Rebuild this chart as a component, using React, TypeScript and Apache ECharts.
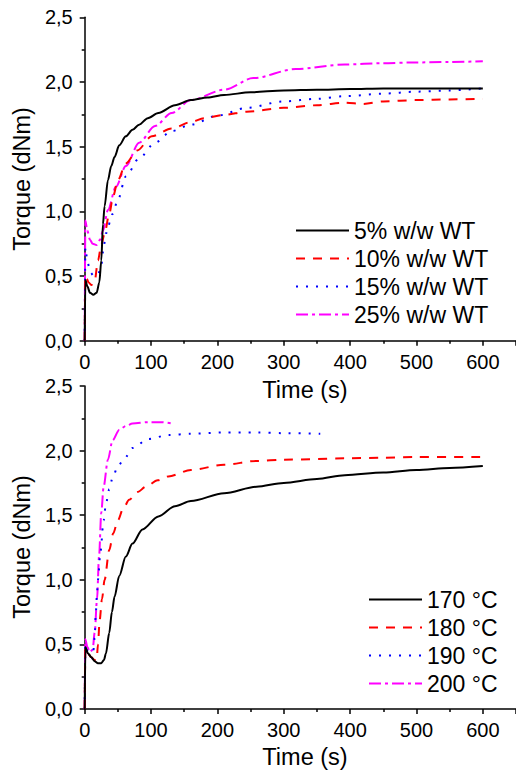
import React, { useEffect, useRef } from "react";
import * as echarts from "echarts";

// ---- Top panel: filler content (% w/w WT) ----
const wt5Time = [0, 1, 4, 8, 13, 18, 22, 25, 27.5, 30, 35, 40, 45, 52, 62, 72, 82, 95, 111, 136, 160, 185, 210, 250, 300, 350, 400, 450, 500, 550, 600];
const wt5Torque = [0, 0.47, 0.42, 0.37, 0.355, 0.37, 0.45, 0.62, 0.9, 1.04, 1.24, 1.35, 1.42, 1.51, 1.58, 1.63, 1.67, 1.72, 1.76, 1.82, 1.86, 1.88, 1.9, 1.92, 1.935, 1.94, 1.945, 1.95, 1.95, 1.95, 1.95];

const wt10Time = [0, 1, 3, 6, 10, 15, 20, 25, 30, 37, 43, 50, 62, 79, 101, 131, 160, 180, 210, 244, 300, 350, 392, 420, 450, 500, 550, 600];
const wt10Torque = [0, 0.5, 0.48, 0.45, 0.43, 0.46, 0.62, 0.74, 0.83, 0.98, 1.12, 1.24, 1.37, 1.47, 1.58, 1.64, 1.69, 1.72, 1.745, 1.77, 1.8, 1.82, 1.84, 1.83, 1.85, 1.86, 1.865, 1.87];

const wt15Time = [0, 1, 4, 8, 14, 20, 25, 28, 32, 42, 50, 62, 82, 106, 131, 160, 200, 244, 300, 350, 392, 450, 500, 550, 600];
const wt15Torque = [0, 0.72, 0.62, 0.53, 0.5, 0.51, 0.58, 0.7, 0.83, 0.98, 1.09, 1.27, 1.41, 1.53, 1.62, 1.67, 1.74, 1.8, 1.85, 1.87, 1.89, 1.91, 1.925, 1.935, 1.95];

const wt25Time = [0, 1, 4, 8, 12, 18, 23, 27.5, 35, 47, 62, 82, 106, 131, 160, 210, 254, 318, 392, 450, 490, 550, 600];
const wt25Torque = [0, 0.93, 0.85, 0.78, 0.75, 0.74, 0.78, 0.85, 1.01, 1.19, 1.35, 1.53, 1.66, 1.76, 1.86, 1.94, 2.03, 2.1, 2.135, 2.145, 2.15, 2.155, 2.16];

// ---- Bottom panel: temperature ----
const c170Time = [0, 1, 5, 10, 15, 20, 25, 29, 32, 37, 41, 45, 52, 62, 72, 87, 111, 136, 160, 210, 259, 300, 350, 392, 450, 500, 550, 600];
const c170Torque = [0, 0.48, 0.43, 0.4, 0.37, 0.355, 0.355, 0.38, 0.43, 0.59, 0.75, 0.87, 1.03, 1.18, 1.28, 1.39, 1.49, 1.57, 1.61, 1.67, 1.72, 1.75, 1.78, 1.81, 1.83, 1.85, 1.865, 1.88];

const c180Time = [0, 1, 5, 10, 15, 18, 20, 22.6, 26, 30, 37, 43, 50, 58, 67, 80, 92, 110, 126, 160, 210, 259, 300, 392, 450, 500, 600];
const c180Torque = [0, 0.47, 0.43, 0.4, 0.38, 0.38, 0.5, 0.69, 0.85, 1.0, 1.23, 1.36, 1.46, 1.55, 1.62, 1.68, 1.72, 1.77, 1.8, 1.85, 1.89, 1.92, 1.93, 1.94, 1.945, 1.95, 1.95];

const c190Time = [0, 1, 4, 8, 12, 15, 16.7, 18.6, 20, 23.6, 28.5, 32, 37, 42, 50, 60, 72, 96, 126, 160, 210, 259, 300, 355];
const c190Torque = [0, 0.5, 0.45, 0.4, 0.39, 0.55, 0.74, 0.9, 1.0, 1.21, 1.46, 1.59, 1.7, 1.79, 1.88, 1.94, 2.02, 2.09, 2.12, 2.13, 2.14, 2.14, 2.135, 2.13];

const c200Time = [0, 1, 4, 8, 12, 15, 18.6, 21.6, 25, 28.5, 35, 42, 52, 62, 72, 96, 115, 131];
const c200Torque = [0, 0.54, 0.48, 0.44, 0.46, 0.59, 0.85, 1.18, 1.52, 1.72, 1.93, 2.08, 2.16, 2.19, 2.21, 2.22, 2.22, 2.21];

const topNames = ["5% w/w WT", "10% w/w WT", "15% w/w WT", "25% w/w WT"];
const bottomNames = ["170 °C", "180 °C", "190 °C", "200 °C"];

const FONT = "'Liberation Sans', Arial, Helvetica, sans-serif";
const colors = ["#000000", "#ff0000", "#0000ff", "#ff00ff"];
const dashes: any[] = ["solid", [9, 8], [2, 8], [12, 4, 3, 4]];

const zip = (t: number[], v: number[]) => t.map((x, i) => [x, v[i]]);

export default function App() {
  const ref = useRef<HTMLDivElement>(null);
  useEffect(() => {
    if (!ref.current) return;
    const chart = echarts.init(ref.current, null, { renderer: "svg" });

    const grids = [
      { left: 84.7, top: 17.3, width: 437.7, height: 323.4 },
      { left: 84.7, top: 386, width: 437.7, height: 323 },
    ];

    const xAxisBase = (gi: number) => ({
      type: "value",
      gridIndex: gi,
      min: 0,
      max: 650,
      interval: 100,
      axisLine: { show: true, onZero: false, lineStyle: { color: "#000", width: 1.5 } },
      axisTick: { show: true, inside: false, length: 5, lineStyle: { color: "#000", width: 1.5 } },
      minorTick: { show: true, splitNumber: 2, length: 3, lineStyle: { color: "#000", width: 1.5 } },
      splitLine: { show: false },
      minorSplitLine: { show: false },
      axisLabel: {
        color: "#000",
        fontSize: 20,
        fontFamily: FONT,
        margin: 11,
        showMaxLabel: false,
        formatter: (v: number) => (v % 100 === 0 ? String(v) : ""),
      },
    });
    const yAxisBase = (gi: number) => ({
      type: "value",
      gridIndex: gi,
      min: 0,
      max: 2.5,
      interval: 0.5,
      axisLine: { show: true, onZero: false, lineStyle: { color: "#000", width: 1.5 } },
      axisTick: { show: true, inside: false, length: 5, lineStyle: { color: "#000", width: 1.5 } },
      minorTick: { show: true, splitNumber: 2, length: 3, lineStyle: { color: "#000", width: 1.5 } },
      splitLine: { show: false },
      minorSplitLine: { show: false },
      axisLabel: {
        color: "#000",
        fontSize: 20,
        fontFamily: FONT,
        margin: 12,
        formatter: (v: number) => v.toFixed(1).replace(".", ","),
      },
    });

    const topData = [
      zip(wt5Time, wt5Torque),
      zip(wt10Time, wt10Torque),
      zip(wt15Time, wt15Torque),
      zip(wt25Time, wt25Torque),
    ];
    const bottomData = [
      zip(c170Time, c170Torque),
      zip(c180Time, c180Torque),
      zip(c190Time, c190Torque),
      zip(c200Time, c200Torque),
    ];

    const mkSeries = (name: string, data: number[][], i: number, gi: number) => ({
      type: "line",
      name,
      data,
      xAxisIndex: gi,
      yAxisIndex: gi,
      symbol: "none",
      smooth: 0.3,
      smoothMonotone: "x",
      clip: true,
      lineStyle: { color: colors[i], width: 2, type: dashes[i] },
      itemStyle: { color: colors[i] },
      z: 10 - i,
    });

    const series = [
      ...topNames.map((n, i) => mkSeries(n, topData[i], i, 0)),
      ...bottomNames.map((n, i) => mkSeries(n, bottomData[i], i, 1)),
    ];

    const legendBase = {
      orient: "vertical",
      padding: 0,
      itemWidth: 53,
      itemHeight: 10,
      itemGap: 5,
      itemStyle: { opacity: 0 },
      textStyle: { color: "#000", fontSize: 23, fontFamily: FONT },
      selectedMode: false,
    };

    const titleStyle = { fill: "#000", fontSize: 23.5, fontFamily: FONT, textAlign: "center", textVerticalAlign: "middle" };

    chart.setOption({
      animation: false,
      backgroundColor: "#fff",
      grid: grids,
      xAxis: [xAxisBase(0), xAxisBase(1)],
      yAxis: [yAxisBase(0), yAxisBase(1)],
      legend: [
        { ...legendBase, left: 295, top: 219, data: topNames },
        { ...legendBase, left: 368, top: 588, data: bottomNames },
      ],
      series,
      graphic: [
        { type: "text", x: 22, y: 179, rotation: Math.PI / 2, style: { ...titleStyle, text: "Torque (dNm)" } },
        { type: "text", x: 22, y: 547, rotation: Math.PI / 2, style: { ...titleStyle, text: "Torque (dNm)" } },
        { type: "text", x: 305, y: 390, style: { ...titleStyle, text: "Time (s)" } },
        { type: "text", x: 305, y: 757, style: { ...titleStyle, text: "Time (s)" } },
      ],
    });
    return () => chart.dispose();
  }, []);

  return (
    <div
      ref={ref}
      style={{ position: "fixed", left: 0, top: 0, width: 516, height: 772, background: "#fff" }}
    />
  );
}
